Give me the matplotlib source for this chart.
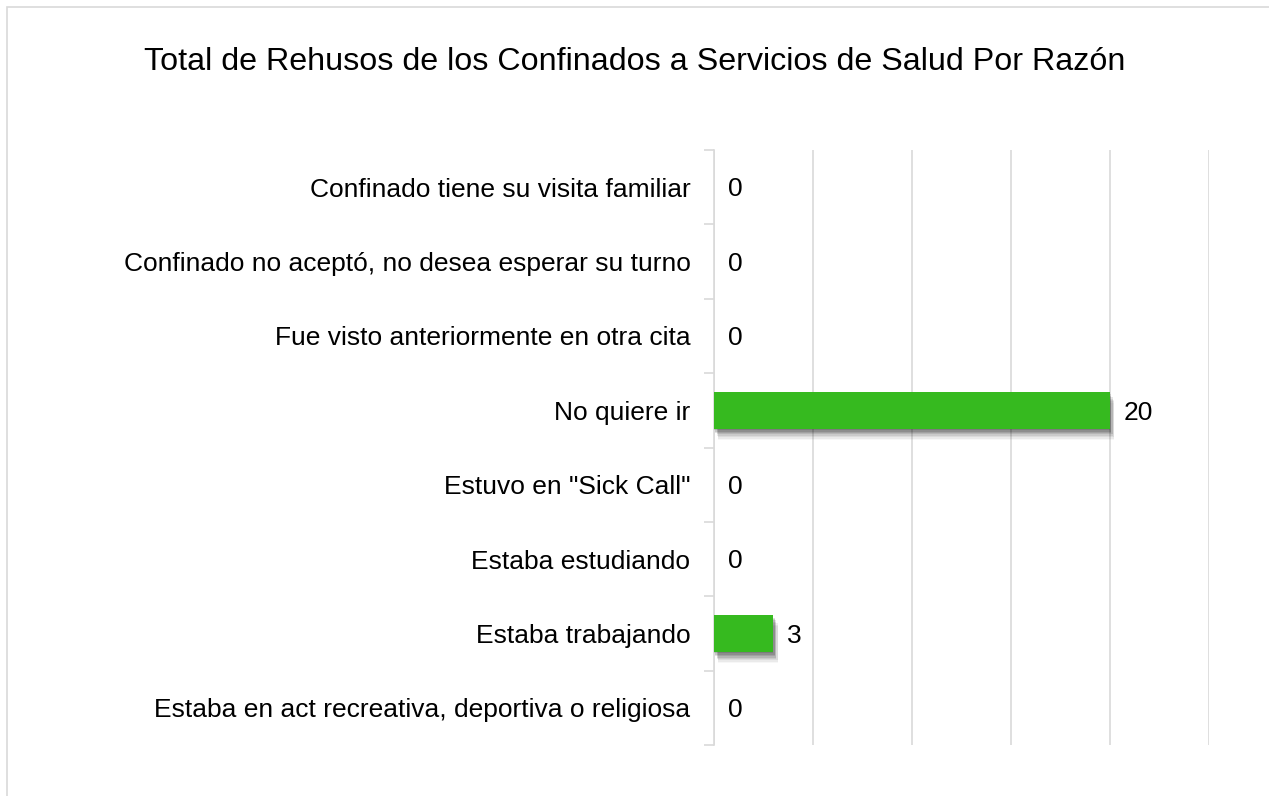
import matplotlib.pyplot as plt
import matplotlib.patheffects as pe
from matplotlib.patches import Rectangle
import numpy as np

plt.rcParams['font.family'] = ['Liberation Sans', 'DejaVu Sans']

# datos (de arriba hacia abajo)
razones = [
    "Confinado tiene su visita familiar",
    "Confinado no aceptó, no desea esperar su turno",
    "Fue visto anteriormente en otra cita",
    "No quiere ir",
    'Estuvo en "Sick Call"',
    "Estaba estudiando",
    "Estaba trabajando",
    "Estaba en act recreativa, deportiva o religiosa",
]
totales = [0, 0, 0, 20, 0, 0, 3, 0]
titulo = "Total de Rehusos de los Confinados a Servicios de Salud Por Razón"

fig = plt.figure(figsize=(12.69, 7.96), dpi=100)
# borde del gráfico
fig.patches.append(Rectangle((7 / 1269, -0.1), 1.2, 1 - 7 / 796 + 0.1,
                             transform=fig.transFigure, fill=False,
                             edgecolor='#d9d9d9', linewidth=1.2))

ax = fig.add_axes([714 / 1269, 1 - 745 / 796, (1209 - 714) / 1269, (745 - 150) / 796])
y = np.arange(len(razones))
barras = ax.barh(y, totales, height=0.5, color='#36BA1F', zorder=3)
# sombra difusa aproximada con varias capas
sombra = []
for dx, dy, a in [(0, -1, 0.12), (1, -2, 0.12), (1, -3, 0.11), (2, -4, 0.10),
                  (2, -5, 0.08), (3, -6, 0.06), (3, -7, 0.05), (3, -8, 0.03)]:
    sombra.append(pe.SimplePatchShadow(offset=(dx, dy), shadow_rgbFace='#000000', alpha=a))
for b in barras:
    b.set_path_effects(sombra + [pe.Normal()])

for yi, v in zip(y, totales):
    ax.text(v + 0.7, yi + 0.03, str(v), va='center', ha='left', fontsize=19, color='#000000')

ax.set_xlim(0, 25)
ax.set_ylim(len(razones) - 0.5, -0.5)
ax.set_xticks([0, 5, 10, 15, 20, 25])
ax.grid(axis='x', color='#d9d9d9', linewidth=1.2, zorder=0)
ax.tick_params(axis='x', length=0, labelbottom=False)
ax.set_yticks(y)
ax.set_yticklabels(razones, fontsize=19)
ax.tick_params(axis='y', length=0, pad=17)
ax.set_yticks(np.arange(-0.5, len(razones), 1), minor=True)
ax.tick_params(axis='y', which='minor', length=7, color='#d9d9d9', width=1.2)
for s in ['top', 'right', 'bottom']:
    ax.spines[s].set_visible(False)
ax.spines['left'].set_color('#d9d9d9')
ax.spines['left'].set_linewidth(1.2)

fig.text(0.5, 1 - 62 / 796, titulo, ha='center', va='center', fontsize=23.2)

fig.savefig('out.png', dpi=100)
